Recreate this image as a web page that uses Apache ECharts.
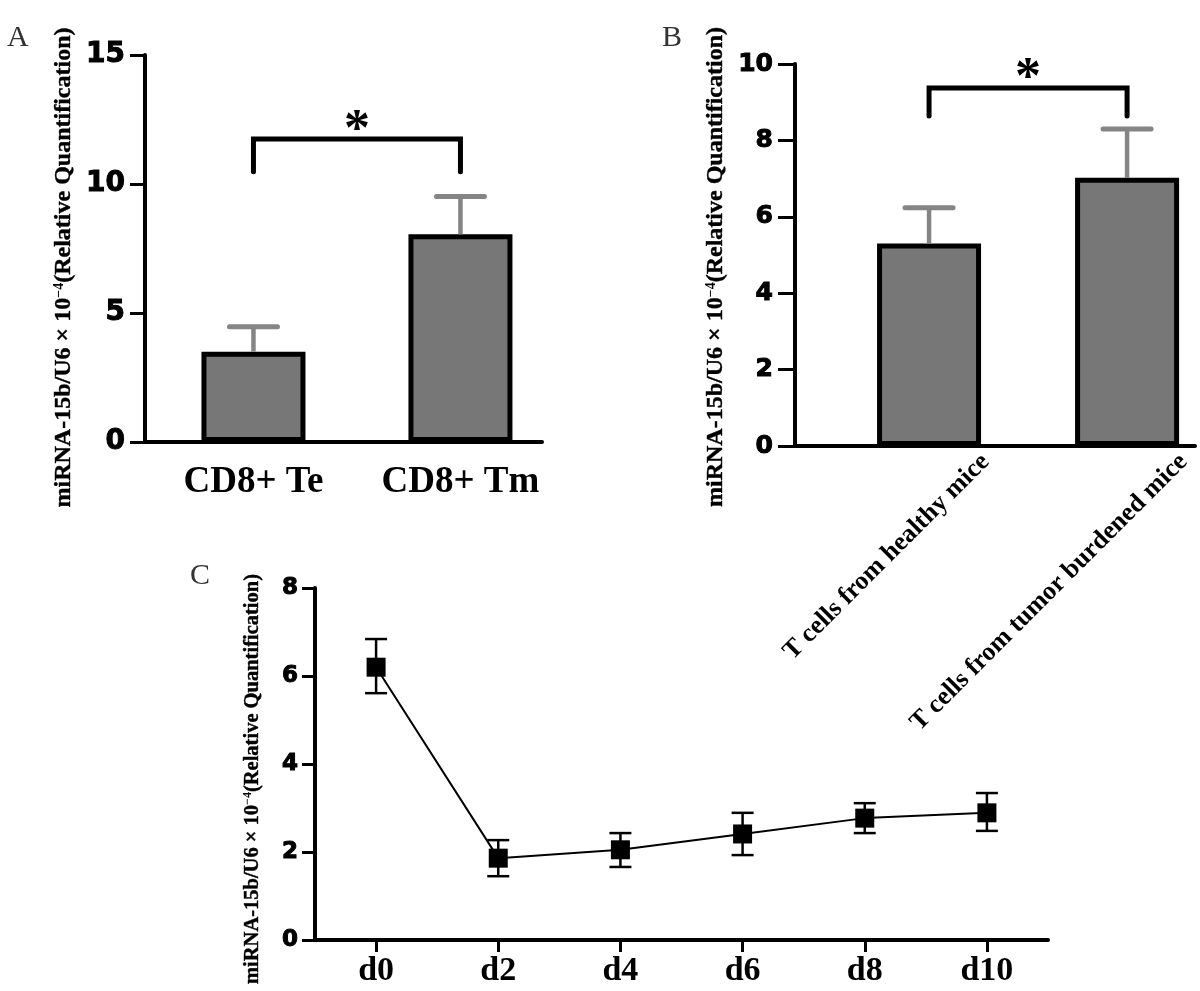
<!DOCTYPE html>
<html><head><meta charset="utf-8">
<script src="https://cdn.jsdelivr.net/npm/echarts@6/dist/echarts.min.js"></script>
<style>html,body{margin:0;padding:0;background:#fff}#c{width:1200px;height:991px}</style>
</head><body><div id="c"></div>
<script>
// ---- Panel A ----
const catsA = ['CD8+ Te', 'CD8+ Tm'];
const meanA = [3.5, 8.05];
const errTopA = [4.47, 9.52];
const bracketA = [10.47, 11.74, 12.4]; // leg bottom, bracket top, star height
// ---- Panel B ----
const catsB = ['T cells from healthy mice', 'T cells from tumor burdened mice'];
const meanB = [5.3, 7.02];
const errTopB = [6.24, 8.3];
const bracketB = [8.64, 9.37, 9.84];
// ---- Panel C ----
const catsC = ['d0', 'd2', 'd4', 'd6', 'd8', 'd10'];
const meanC = [6.2, 1.86, 2.05, 2.41, 2.77, 2.89];
const errLowC = [5.61, 1.45, 1.66, 1.93, 2.43, 2.48];
const errHighC = [6.84, 2.27, 2.43, 2.89, 3.11, 3.34];
// axis ranges [min, max, interval]
const yRangeA = [0, 15, 5];
const yRangeB = [0, 10, 2];
const yRangeC = [0, 8, 2];
const panelLetters = ['A', 'B', 'C'];
const sigLabel = '*';
const yTitle = '{t|miRNA-15b/U6 × 10}{s|−4}{t|(Relative Quantification)}';

const SERIF = 'Liberation Serif, Times New Roman, serif';
const SANS = 'DejaVu Sans, Arial, sans-serif';

function titleStyle(size){
  return {
    fontFamily: SERIF, fontWeight: 'bold', fontSize: size, color: '#000',
    rich: {
      t: {fontFamily: SERIF, fontWeight: 'bold', fontSize: size, color: '#000', textBorderColor: '#000', textBorderWidth: 0.4},
      s: {fontFamily: SERIF, fontWeight: 'bold', fontSize: Math.round(size*0.6), color: '#000', verticalAlign: 'top', lineHeight: size}
    }
  };
}

function valueYAxis(grid, r, opts){
  return {
    gridIndex: grid, type: 'value', min: r[0], max: r[1], interval: r[2],
    axisLine: {show: true, onZero: false, lineStyle: {color: '#000', width: 4}},
    axisTick: {show: true, length: opts.tick, lineStyle: {color: '#000', width: 3}},
    axisLabel: {margin: opts.margin, fontFamily: SANS, fontWeight: 'bold', fontSize: opts.font, color: '#000',
      textBorderColor: '#000', textBorderWidth: 1},
    splitLine: {show: false},
    name: yTitle, nameLocation: 'middle', nameGap: opts.nameGap,
    nameTextStyle: Object.assign(titleStyle(opts.titleSize), {padding: opts.pad})
  };
}

function barErr(params, api){
  const x = api.value(0);
  const b = api.coord([x, api.value(1)]);
  const t = api.coord([x, api.value(2)]);
  const half = 24;
  return {type: 'group', children: [
    {type: 'line', shape: {x1: b[0], y1: b[1], x2: t[0], y2: t[1]}, style: {stroke: '#858585', lineWidth: 4.5}},
    {type: 'line', shape: {x1: t[0]-half, y1: t[1], x2: t[0]+half, y2: t[1]}, style: {stroke: '#858585', lineWidth: 5, lineCap: 'round'}}
  ]};
}
function ptErr(params, api){
  const x = api.value(0);
  const lo = api.coord([x, api.value(1)]);
  const hi = api.coord([x, api.value(2)]);
  const half = 11;
  const st = {stroke: '#000', lineWidth: 2.5};
  return {type: 'group', children: [
    {type: 'line', shape: {x1: lo[0], y1: lo[1], x2: hi[0], y2: hi[1]}, style: st},
    {type: 'line', shape: {x1: hi[0]-half, y1: hi[1], x2: hi[0]+half, y2: hi[1]}, style: st},
    {type: 'line', shape: {x1: lo[0]-half, y1: lo[1], x2: lo[0]+half, y2: lo[1]}, style: st}
  ]};
}
function barPanelSeries(xi, yi, means, tops, br){
  return [
    {type: 'bar', xAxisIndex: xi, yAxisIndex: yi, data: means.map((v, i) => [i, v]), barWidth: 104,
      itemStyle: {color: '#777777', borderColor: '#000', borderWidth: 5}},
    {type: 'custom', xAxisIndex: xi, yAxisIndex: yi, renderItem: barErr, z: 4,
      encode: {x: 0, y: [1, 2]}, data: means.map((v, i) => [i, v, tops[i]])},
    {type: 'line', xAxisIndex: xi, yAxisIndex: yi, silent: true, z: 5,
      data: [[0, br[0]], [0, br[1]], [1, br[1]], [1, br[0]]],
      symbol: 'none', lineStyle: {color: '#000', width: 5, cap: 'round', join: 'miter'}},
    {type: 'scatter', xAxisIndex: xi, yAxisIndex: yi, silent: true, z: 6,
      data: [[0.5, br[2]]], symbolSize: 2, itemStyle: {color: 'rgba(0,0,0,0)', opacity: 1},
      label: {show: true, position: 'inside', formatter: sigLabel, offset: [0, 9], opacity: 1,
        fontFamily: SERIF, fontWeight: 'bold', fontSize: 52, color: '#000',
        textBorderWidth: 0, textBorderColor: 'transparent'}}
  ];
}
const catFmt = cats => (v => cats[Math.round(v)] || '');

const chart = echarts.init(document.getElementById('c'));
const letterStyle = {fontFamily: SERIF, fontWeight: 'normal', fontSize: 30, color: '#333'};
chart.setOption({
  animation: false,
  backgroundColor: '#fff',
  title: [
    {text: panelLetters[0], left: 7, top: 23, padding: 0, textStyle: letterStyle},
    {text: panelLetters[1], left: 662, top: 23, padding: 0, textStyle: letterStyle},
    {text: panelLetters[2], left: 190, top: 561, padding: 0, textStyle: letterStyle}
  ],
  grid: [
    {left: 145, top: 55, width: 397, height: 387},
    {left: 795, top: 64, width: 400, height: 382},
    {left: 315, top: 588, width: 733, height: 352}
  ],
  xAxis: [
    // A: bar positions 0,1 on a value scale
    {gridIndex: 0, type: 'value', min: -0.524, max: 1.394, position: 'bottom',
      axisLine: {show: true, onZero: false, lineStyle: {color: '#000', width: 4}}, axisTick: {show: false}, splitLine: {show: false},
      axisLabel: {customValues: [0, 1], formatter: catFmt(catsA), margin: 22,
        fontFamily: SERIF, fontWeight: 'bold', fontSize: 37, color: '#000'}},
    // B: bars
    {gridIndex: 1, type: 'value', min: -0.677, max: 1.343, position: 'bottom',
      axisLine: {show: true, onZero: false, lineStyle: {color: '#000', width: 4}}, axisTick: {show: false}, splitLine: {show: false},
      axisLabel: {show: false}},
    // B: rotated labels
    {gridIndex: 1, type: 'value', min: -0.962, max: 1.058, position: 'bottom', offset: 0,
      axisLine: {show: false, onZero: false}, axisTick: {show: false}, splitLine: {show: false},
      axisLabel: {customValues: [0, 1], formatter: catFmt(catsB), rotate: 45, margin: 12,
        fontFamily: SERIF, fontWeight: 'bold', fontSize: 26, color: '#000'}},
    // C
    {gridIndex: 2, type: 'category', data: catsC,
      axisLine: {show: true, lineStyle: {color: '#000', width: 4}},
      axisTick: {show: true, alignWithLabel: true, length: 12, lineStyle: {color: '#000', width: 3}},
      axisLabel: {interval: 0, margin: 14, fontFamily: SERIF, fontWeight: 'bold', fontSize: 34, color: '#000'}}
  ],
  yAxis: [
    valueYAxis(0, yRangeA, {tick: 15, margin: 20, font: 28, nameGap: 69, titleSize: 24, pad: [0, 38, 0, 0]}),
    valueYAxis(1, yRangeB, {tick: 17, margin: 22, font: 25, nameGap: 67, titleSize: 24, pad: [0, 24, 0, 0]}),
    valueYAxis(2, yRangeC, {tick: 13, margin: 17, font: 23, nameGap: 52, titleSize: 20.5, pad: [0, 30, 0, 0]})
  ],
  series: [].concat(
    barPanelSeries(0, 0, meanA, errTopA, bracketA),
    barPanelSeries(1, 1, meanB, errTopB, bracketB),
    [
      {type: 'custom', xAxisIndex: 3, yAxisIndex: 2, renderItem: ptErr, z: 2,
        encode: {x: 0, y: [1, 2]}, data: catsC.map((c, i) => [i, errLowC[i], errHighC[i]])},
      {type: 'line', xAxisIndex: 3, yAxisIndex: 2, data: meanC, z: 3,
        symbol: 'rect', symbolSize: 19, itemStyle: {color: '#000'}, lineStyle: {color: '#000', width: 2}}
    ]
  )
});
</script>
</body></html>
